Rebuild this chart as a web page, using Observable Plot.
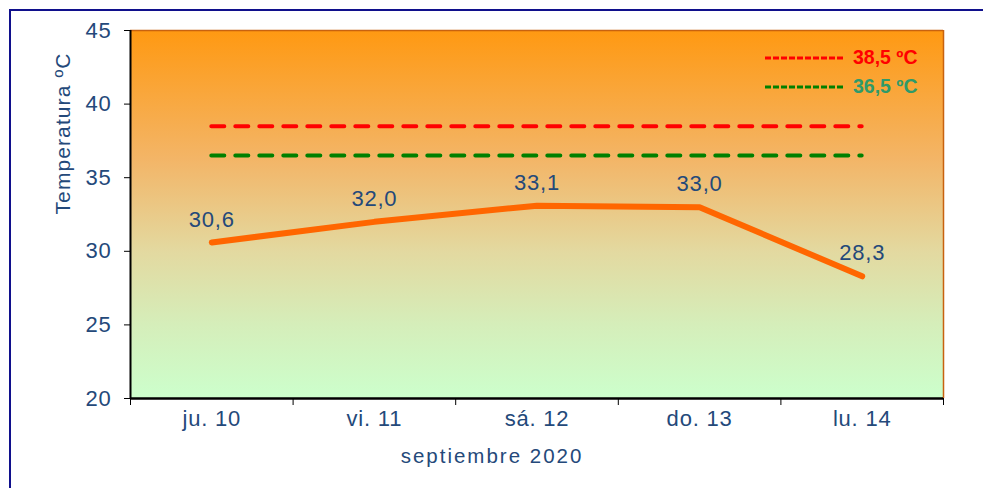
<!DOCTYPE html>
<html>
<head>
<meta charset="utf-8">
<script src="https://cdn.jsdelivr.net/npm/d3@7"></script>
<script src="https://cdn.jsdelivr.net/npm/@observablehq/plot@0.6"></script>
<style>
  html, body { margin: 0; padding: 0; background: #fff; overflow: hidden; width: 983px; height: 488px; }
  #wrap { position: relative; width: 983px; height: 488px; font-family: "Liberation Sans", Arial, sans-serif; }
  #frame { position: absolute; left: 9px; top: 9px; width: 1000px; height: 520px; border: 2px solid #10108C; box-sizing: border-box; pointer-events: none; }
  #legend { position: absolute; left: 765px; top: 43px; font-weight: bold; font-size: 19.5px; }
  #legend div { display: flex; align-items: center; height: 29px; }
  #legend svg { margin-right: 10px; }
  svg { font-family: "Liberation Sans", Arial, sans-serif; }
</style>
</head>
<body>
<div id="wrap">
  <div id="chart"></div>
  <div id="frame"></div>
  <div id="legend"></div>
</div>
<script>
const days = ["ju. 10", "vi. 11", "sá. 12", "do. 13", "lu. 14"];
const temps = [30.6, 32.0, 33.1, 33.0, 28.3];
const tempLabels = ["30,6", "32,0", "33,1", "33,0", "28,3"];
const limitRed = 38.5;
const limitGreen = 36.5;
const limitLabels = ["38,5 ºC", "36,5 ºC"];
const yTicks = [20, 25, 30, 35, 40, 45];
const xTitle = "septiembre 2020";
const yTitle = "Temperatura ºC";

const txt = "#24497A";
const data = days.map((d, i) => ({i, day: d, t: temps[i], label: tempLabels[i]}));
const idx = d3.range(days.length);
const bounds = d3.range(-0.5, days.length, 1);

const chart = Plot.plot({
  width: 983,
  height: 488,
  marginLeft: 130,
  marginRight: 40,
  marginTop: 30,
  marginBottom: 90,
  style: {fontFamily: "Liberation Sans, Arial, sans-serif", background: "transparent", letterSpacing: "0.8px"},
  x: {domain: [-0.5, days.length - 0.5]},
  y: {domain: [20, 45]},
  marks: [
    Plot.frame({fill: "url(#bgGrad)", stroke: null}),
    Plot.ruleY([45], {stroke: "#C8620F", strokeWidth: 1.5}),
    Plot.ruleX([days.length - 0.5], {stroke: "#C8620F", strokeWidth: 1.5}),
    Plot.ruleX([-0.5], {stroke: "#000", strokeWidth: 2}),
    Plot.ruleY([20], {stroke: "#000", strokeWidth: 2.5}),
    Plot.axisY({ticks: yTicks, tickSize: 6, tickPadding: 13, fontSize: 22, color: txt, stroke: "#000", label: null, tickFormat: d => d}),
    Plot.axisX({ticks: bounds, tickSize: 7, stroke: "#000", tickFormat: () => "", label: null}),
    Plot.axisX({ticks: idx, tickSize: 0, tickPadding: 12, fontSize: 22, color: txt, tickFormat: i => days[i], label: null}),
    Plot.ruleY([limitRed], {x1: 0, x2: days.length - 1, stroke: "#FF0000", strokeWidth: 4, strokeDasharray: "13,11", strokeLinecap: "round"}),
    Plot.ruleY([limitGreen], {x1: 0, x2: days.length - 1, stroke: "#008000", strokeWidth: 4, strokeDasharray: "13,11", strokeLinecap: "round"}),
    Plot.lineY(data, {x: "i", y: "t", stroke: "#FF6600", strokeWidth: 6, strokeLinejoin: "round"}),
    Plot.text(data, {x: "i", y: "t", text: "label", dy: -23, fontSize: 22, fill: txt}),
    Plot.text([yTitle], {frameAnchor: "left", dx: -67, rotate: -90, fontSize: 21, fill: txt}),
    Plot.text([xTitle], {frameAnchor: "bottom", dx: -45, dy: 64, fontSize: 20.5, fill: txt})
  ]
});

const svg = d3.select(chart);
const defs = svg.insert("defs", ":first-child");
const g = defs.append("linearGradient").attr("id", "bgGrad").attr("x1", 0).attr("y1", 0).attr("x2", 0).attr("y2", 1);
[[0, "#FF9912"], [0.35, "#F3B567"], [0.6, "#E3D9A0"], [0.8, "#D5EEBA"], [1, "#CCFFCC"]].forEach(([o, c]) =>
  g.append("stop").attr("offset", o).attr("stop-color", c));
svg.selectAll("text").filter(function() { return this.textContent === xTitle; }).style("letter-spacing", "2px");
svg.selectAll("text").filter(function() { return this.textContent === yTitle; }).style("letter-spacing", "1.1px");

document.getElementById("chart").appendChild(chart);

const legend = d3.select("#legend");
[[limitLabels[0], "#FF0000", "#FF0000"], [limitLabels[1], "#008000", "#2E9A6A"]].forEach(([lab, stroke, color]) => {
  const row = legend.append("div");
  const s = row.append("svg").attr("width", 78).attr("height", 6);
  s.append("line").attr("x1", 0).attr("x2", 78).attr("y1", 3).attr("y2", 3)
    .attr("stroke", stroke).attr("stroke-width", 3).attr("stroke-dasharray", "6,2");
  row.append("span").style("color", color).text(lab);
});
</script>
</body>
</html>
